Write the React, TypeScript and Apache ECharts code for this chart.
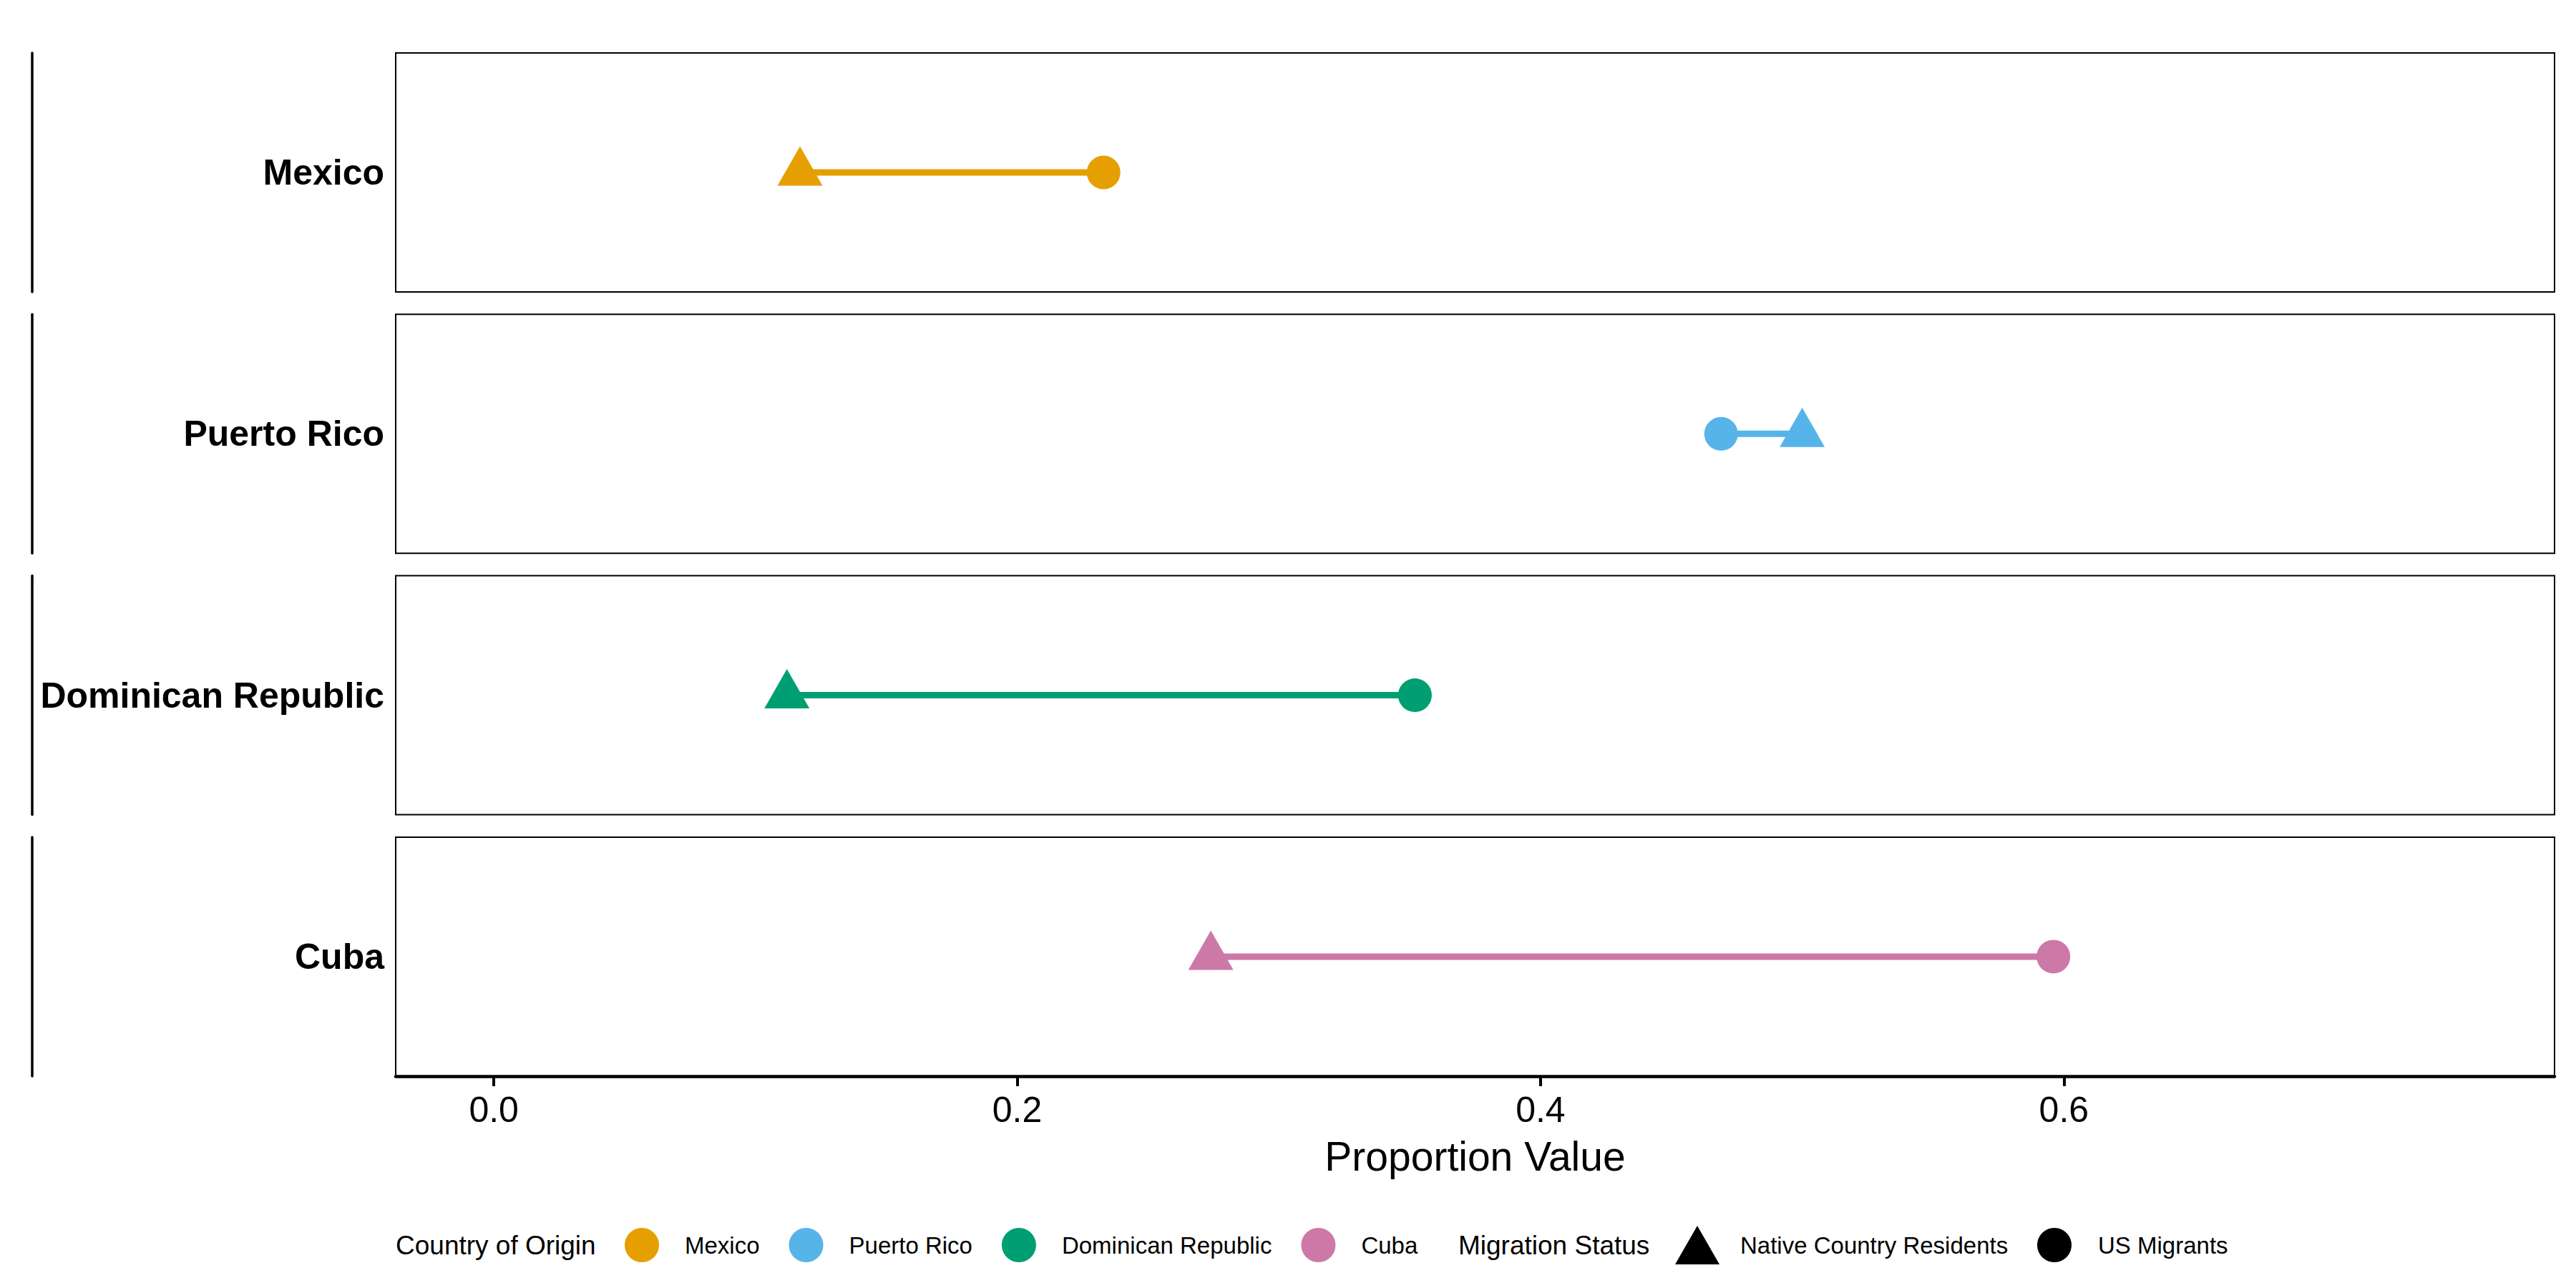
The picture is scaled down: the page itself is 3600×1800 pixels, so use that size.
import React, { useEffect, useRef } from "react";
import * as echarts from "echarts";

// ---- Data ----
const countries = ["Mexico", "Puerto Rico", "Dominican Republic", "Cuba"];
const nativeResidents = [0.117, 0.5, 0.112, 0.274];
const usMigrants = [0.233, 0.469, 0.352, 0.596];
const countryColors = ["#E69F00", "#56B4E9", "#009E73", "#CC79A7"];
const xTicks = [0, 0.2, 0.4, 0.6];
const statusLabels = ["Native Country Residents", "US Migrants"];
const xTitle = "Proportion Value";
const legendTitles = ["Country of Origin", "Migration Status"];

// ---- Layout ----
const FONT = "'Liberation Sans', Arial, Helvetica, sans-serif";
const PANEL_LEFT = 553;
const PANEL_RIGHT = 3570;
const PANEL_TOP = 74;
const PANEL_H = 334;
const PANEL_STEP = 365.3;
const X_MIN = -0.0375;
const X_MAX = 0.7875;
const LEGEND_Y = 1740;

export default function App() {
  const ref = useRef<HTMLDivElement>(null);

  useEffect(() => {
    document.body.style.margin = "0";
    if (!ref.current) return;
    const chart = echarts.init(ref.current, undefined, { renderer: "svg" });
    const n = countries.length;

    const grid = countries.map((_, i) => ({
      left: PANEL_LEFT,
      top: PANEL_TOP + i * PANEL_STEP,
      width: PANEL_RIGHT - PANEL_LEFT,
      height: PANEL_H,
      show: true,
      borderColor: "#000",
      borderWidth: 2,
      backgroundColor: "transparent",
    }));

    const xAxis = countries.map((_, i) => {
      const last = i === n - 1;
      return {
        type: "value",
        gridIndex: i,
        min: X_MIN,
        max: X_MAX,
        splitLine: { show: false },
        axisLine: { show: last, onZero: false, lineStyle: { color: "#000", width: 4.5 } },
        axisTick: { show: last, customValues: xTicks, length: 14, lineStyle: { color: "#000", width: 4 } },
        axisLabel: {
          show: last,
          customValues: xTicks,
          formatter: (v: number) => v.toFixed(1),
          fontSize: 50,
          color: "#000",
          margin: 22,
          fontFamily: FONT,
        },
        name: last ? xTitle : "",
        nameLocation: "middle",
        nameGap: 84,
        nameTextStyle: { fontSize: 57, color: "#000", fontFamily: FONT },
      };
    });

    const yAxis: any[] = [];
    countries.forEach((c, i) => {
      yAxis.push({
        type: "category",
        gridIndex: i,
        data: [c],
        axisLine: { show: false },
        axisTick: { show: false },
        splitLine: { show: false },
        axisLabel: { fontSize: 50, fontWeight: "bold", color: "#000", margin: 16, fontFamily: FONT },
      });
      yAxis.push({
        type: "value",
        gridIndex: i,
        min: 0,
        max: 1,
        position: "left",
        offset: PANEL_LEFT - 44.5,
        axisLine: { show: true, lineStyle: { color: "#000", width: 3.5 } },
        axisTick: { show: false },
        axisLabel: { show: false },
        splitLine: { show: false },
      });
    });

    const series: any[] = [];
    countries.forEach((c, i) => {
      const color = countryColors[i];
      series.push({
        type: "line",
        name: c + " segment",
        xAxisIndex: i,
        yAxisIndex: 2 * i,
        data: [
          [nativeResidents[i], 0],
          [usMigrants[i], 0],
        ],
        symbol: "none",
        lineStyle: { color, width: 9 },
        itemStyle: { color },
        silent: true,
        z: 2,
      });
      series.push({
        type: "scatter",
        name: c,
        xAxisIndex: i,
        yAxisIndex: 2 * i,
        itemStyle: { color, opacity: 1 },
        data: [
          { value: [nativeResidents[i], 0], symbol: "triangle", symbolSize: [63, 55], symbolOffset: [0, -9] },
          { value: [usMigrants[i], 0], symbol: "circle", symbolSize: 47 },
        ],
        silent: true,
        z: 3,
      });
    });
    series.push({
      type: "scatter",
      name: statusLabels[0],
      xAxisIndex: 0,
      yAxisIndex: 0,
      symbol: "triangle",
      itemStyle: { color: "#000", opacity: 1 },
      data: [],
    });
    series.push({
      type: "scatter",
      name: statusLabels[1],
      xAxisIndex: 0,
      yAxisIndex: 0,
      symbol: "circle",
      itemStyle: { color: "#000", opacity: 1 },
      data: [],
    });

    const legendText = (pad: number) => ({
      fontSize: 33,
      color: "#000",
      fontFamily: FONT,
      padding: [0, 0, 0, pad],
    });

    const option: any = {
      animation: false,
      backgroundColor: "#fff",
      textStyle: { fontFamily: FONT },
      grid,
      xAxis,
      yAxis,
      series,
      legend: [
        {
          data: countries.map((c) => ({ name: c, icon: "circle" })),
          left: 873,
          top: LEGEND_Y - 24,
          padding: 0,
          orient: "horizontal",
          itemWidth: 48,
          itemHeight: 48,
          itemGap: 41,
          selectedMode: false,
          textStyle: legendText(31),
        },
        {
          data: [{ name: statusLabels[0], icon: "triangle" }],
          left: 2341,
          top: LEGEND_Y - 27,
          padding: 0,
          itemWidth: 62,
          itemHeight: 54,
          selectedMode: false,
          textStyle: legendText(24),
        },
        {
          data: [{ name: statusLabels[1], icon: "circle" }],
          left: 2847,
          top: LEGEND_Y - 24,
          padding: 0,
          itemWidth: 48,
          itemHeight: 48,
          selectedMode: false,
          textStyle: legendText(32),
        },
      ],
      graphic: [
        {
          type: "text",
          x: 553,
          y: LEGEND_Y,
          style: { text: legendTitles[0], fontSize: 37, fill: "#000", fontFamily: FONT, verticalAlign: "middle", align: "left" },
        },
        {
          type: "text",
          x: 2038,
          y: LEGEND_Y,
          style: { text: legendTitles[1], fontSize: 37, fill: "#000", fontFamily: FONT, verticalAlign: "middle", align: "left" },
        },
      ],
    };

    chart.setOption(option);
    return () => chart.dispose();
  }, []);

  return (
    <div
      ref={ref}
      style={{ position: "fixed", left: 0, top: 0, width: 3600, height: 1800, background: "#fff" }}
    />
  );
}
